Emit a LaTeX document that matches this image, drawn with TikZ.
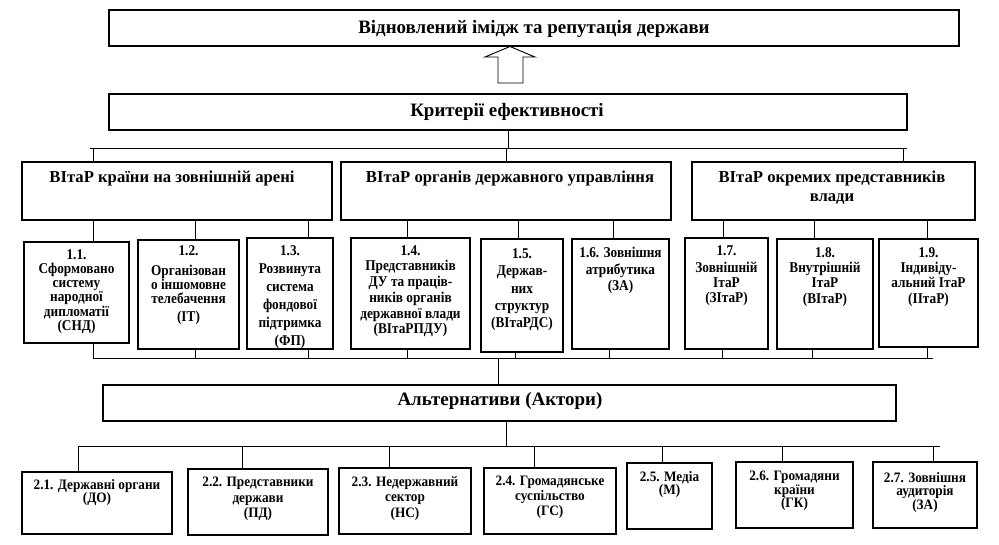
\documentclass[tikz,border=0pt]{standalone}
\usepackage{fontspec}
\setmainfont{Liberation Serif}
\newfontfamily\cfa[FakeStretch=0.89]{Liberation Serif}
\newfontfamily\cfb[FakeStretch=0.92]{Liberation Serif}
\newcommand\mkbox[5]{\node[box, minimum width={(#4-#2)*0.75pt}, minimum height={(#5-#3)*0.75pt}] (#1) at ({(#2+#4)/2},{(#3+#5)/2}) {};}
\begin{document}
\begin{tikzpicture}[x=0.75pt,y=-0.75pt,
  box/.style={draw, line width=0.9pt, inner sep=0pt, outer sep=0pt},
  ln/.style={line width=0.6pt},
  ttl/.style={inner sep=0pt, font=\bfseries\fontsize{14.2}{16}\selectfont},
  hd/.style={anchor=north, inner sep=0pt, align=center, font=\bfseries\fontsize{12.5}{14.3}\selectfont},
  lbl/.style={anchor=north, inner sep=0pt, align=center, font=\cfa\bfseries\fontsize{11.2}{#1}\selectfont},
  sm/.style={anchor=north, inner sep=0pt, align=center, font=\cfb\bfseries\fontsize{10.8}{#1}\selectfont}]
\fill[white] (0,0) rectangle (999,545);
\useasboundingbox (0,0) rectangle (999,545);

% boxes
\mkbox{top}{109}{10}{959}{46}
\mkbox{kryt}{109}{94}{907}{130}
\mkbox{h1}{22}{162}{332}{220}
\mkbox{h2}{341}{162}{671}{220}
\mkbox{h3}{692}{162}{975}{220}
\mkbox{b11}{24}{242}{129}{343}
\mkbox{b12}{138}{240}{239}{349}
\mkbox{b13}{247}{238}{333}{349}
\mkbox{b14}{351}{238}{470}{349}
\mkbox{b15}{481}{239}{563}{352}
\mkbox{b16}{572}{239}{669}{349}
\mkbox{b17}{685}{238}{768}{349}
\mkbox{b18}{777}{239}{873}{349}
\mkbox{b19}{879}{239}{978}{347}
\mkbox{alt}{103}{385}{896}{421}
\mkbox{c21}{22}{472}{172}{534}
\mkbox{c22}{188}{469}{328}{535}
\mkbox{c23}{339}{468}{471}{534}
\mkbox{c24}{484}{468}{616}{534}
\mkbox{c25}{627}{463}{712}{529}
\mkbox{c26}{736}{462}{853}{528}
\mkbox{c27}{873}{462}{977}{528}

% titles
\node[ttl] (ttop) at (534,29) {Відновлений імідж та репутація держави};
\node[ttl] (tkryt) at (507,112) {Критерії ефективності};
\node[ttl] (talt) at (500,401) {Альтернативи (Актори)};
\node[hd] (th1) at (172,171) {ВІтаР країни на зовнішній арені};
\node[hd] (th2) at (510,171) {ВІтаР органів державного управління};
\node[hd] (th3) at (832,171) {ВІтаР окремих представників\\влади};

% criteria boxes text
\node[lbl=10.7pt] (t11) at (b11 |- 0,249) {1.1.\\Сформовано\\систему\\народної\\дипломатії\\(СНД)};
\node[lbl=10.5pt] (t12) at (b12 |- 0,245) {1.2.\\[4.5pt]Організован\\о іншомовне\\телебачення\\[3pt](ІТ)};
\node[lbl=13.5pt] (t13) at (b13 |- 0,245) {1.3.\\Розвинута\\система\\фондової\\підтримка\\(ФП)};
\node[lbl=11.8pt] (t14) at (b14 |- 0,245) {1.4.\\Представників\\ДУ та праців-\\ників органів\\державної влади\\(ВІтаРПДУ)};
\node[lbl=13.1pt] (t15) at (b15 |- 0,248) {1.5.\\Держав-\\них\\структур\\(ВІтаРДС)};
\node[lbl=12.5pt] (t16) at (b16 |- 0,247) {1.6. Зовнішня\\атрибутика\\(ЗА)};
\node[lbl=11.3pt] (t17) at (b17 |- 0,245) {1.7.\\[2pt]Зовнішній\\ІтаР\\(ЗІтаР)};
\node[lbl=11.5pt] (t18) at (b18 |- 0,247) {1.8.\\Внутрішній\\ІтаР\\(ВІтаР)};
\node[lbl=11.5pt] (t19) at (b19 |- 0,247) {1.9.\\Індивіду-\\альний ІтаР\\(ІІтаР)};

% actors boxes text
\node[sm=9.8pt] (t21) at (c21 |- 0,479) {2.1. Державні органи\\(ДО)};
\node[sm=11.6pt] (t22) at (c22 |- 0,477) {2.2. Представники\\держави\\(ПД)};
\node[sm=11.6pt] (t23) at (c23 |- 0,476) {2.3. Недержавний\\сектор\\(НС)};
\node[sm=11.3pt] (t24) at (c24 |- 0,476) {2.4. Громадянське\\суспільство\\(ГС)};
\node[sm=9.8pt] (t25) at (c25 |- 0,471) {2.5. Медіа\\(М)};
\node[sm=10.1pt] (t26) at (c26 |- 0,471) {2.6. Громадяни\\країни\\(ГК)};
\node[sm=9.8pt] (t27) at (c27 |- 0,472) {2.7. Зовнішня\\аудиторія\\(ЗА)};

% hollow arrow
\draw[line width=0.7pt, fill=white] (498,83) -- (498,57) -- (485,57) -- (510,46.5) -- (535,57) -- (523,57) -- (523,83) -- cycle;

% buses
\coordinate (bus1a) at (90,148);
\coordinate (bus1b) at (907,148);
\coordinate (bus2a) at (93,358);
\coordinate (bus2b) at (933,358);
\coordinate (bus3a) at (78,446);
\coordinate (bus3b) at (940,446);
\draw[ln] (bus1a) -- (bus1b);
\draw[ln] (bus2a) -- (bus2b);
\draw[ln] (bus3a) -- (bus3b);
\draw[ln] (kryt.south) -- (kryt.south |- bus1a);

\foreach \x/\b in {93/h1, 506/h2, 903/h3}
  \draw[ln] (bus1a -| \x,0) -- (\b.north -| \x,0);
\foreach \x/\h/\b in {93/h1/b11, 195/h1/b12, 308/h1/b13, 407/h2/b14, 518/h2/b15, 613/h2/b16, 723/h3/b17, 814/h3/b18, 927/h3/b19}
  \draw[ln] (\h.south -| \x,0) -- (\b.north -| \x,0);
\foreach \x/\b in {93/b11, 195/b12, 308/b13, 407/b14, 515/b15, 609/b16, 722/b17, 812/b18, 927/b19}
  \draw[ln] (\b.south -| \x,0) -- (bus2a -| \x,0);
\draw[ln] (bus2a -| 498,0) -- (alt.north -| 498,0);
\draw[ln] (alt.south -| 506,0) -- (bus3a -| 506,0);
\foreach \x/\b in {78/c21, 242/c22, 389/c23, 534/c24, 662/c25, 782/c26, 933/c27}
  \draw[ln] (bus3a -| \x,0) -- (\b.north -| \x,0);
\end{tikzpicture}
\end{document}
